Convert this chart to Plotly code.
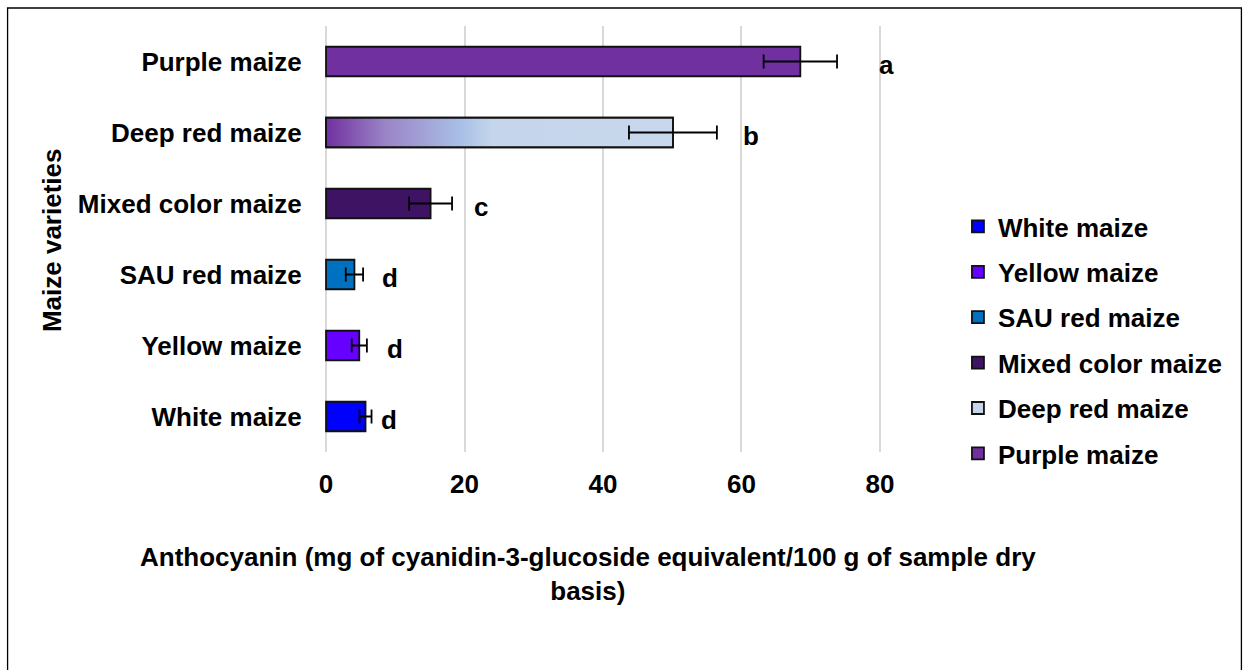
import plotly.graph_objects as go

# Anthocyanin content by maize variety (bottom to top on the chart)
varieties = ["White maize", "Yellow maize", "SAU red maize",
             "Mixed color maize", "Deep red maize", "Purple maize"]
anthocyanin = [5.7, 4.8, 4.1, 15.1, 50.1, 68.5]
std_err = [0.87, 1.1, 1.25, 3.1, 6.35, 5.3]
letters = ["d", "d", "d", "c", "b", "a"]
x_ticks = [0, 20, 40, 60, 80]

# styling
colors = ["#0000FF", "#6600FF", "#0070C0", "#3F1363", "#C5D5EA", "#7030A0"]
letter_shift = [17, 28, 27, 29, 34, 49]
BAR_W = 0.415
FONT = dict(family="Liberation Sans, Arial, sans-serif", size=26, color="black", weight=700)

# x range padded a hair so the 0 and 80 gridlines are drawn
X_PAD = 0.15
X0, X1 = 326, 880                     # pixel positions of 0 and 80
SCALE = (X1 - X0) / 80.0

# plot-area geometry in pixels
W, H = 1249, 670
L = X0 - X_PAD * SCALE
R = W - (X1 + X_PAD * SCALE)
T, B = 26, 218
PW, PH = W - L - R, H - T - B


def px_x(x):
    return (x - L) / PW


def px_y(y):
    return (H - B - y) / PH


pos = list(range(len(varieties)))
fig = go.Figure()

for i, name in enumerate(varieties):
    fig.add_trace(go.Bar(
        x=[anthocyanin[i]], y=[pos[i]], orientation="h", width=BAR_W,
        name=name, legendgroup=name,
        marker=dict(color=colors[i], line=dict(color="#111111", width=1.8)),
        hoverinfo="x+name",
    ))

# gradient face of the deep red bar
k = varieties.index("Deep red maize")
v, y0, y1 = anthocyanin[k], pos[k] - BAR_W / 2, pos[k] + BAR_W / 2
fig.add_trace(go.Scatter(
    x=[0, v, v, 0, 0], y=[y0, y0, y1, y1, y0], mode="lines", fill="toself",
    fillgradient=dict(type="horizontal", start=0, stop=v,
                      colorscale=[[0.0, "#7030A0"], [0.17, "#9A84C6"],
                                  [0.39, "#A9C0E6"], [0.48, "#C5D5EB"],
                                  [1.0, "#C7D7EC"]]),
    line=dict(color="#111111", width=1.8), showlegend=False, hoverinfo="skip",
))

# error bars on top of all bars
fig.add_trace(go.Scatter(
    x=anthocyanin, y=pos, mode="markers", marker=dict(size=1, opacity=0),
    error_x=dict(type="data", array=std_err, color="black", thickness=1.8, width=7),
    showlegend=False, hoverinfo="skip",
))

annotations = []
for i, let in enumerate(letters):
    annotations.append(dict(
        x=anthocyanin[i] + std_err[i], y=pos[i], xref="x", yref="y",
        text=let, showarrow=False, xanchor="center", yanchor="middle",
        xshift=letter_shift[i], yshift=-3, font=FONT,
    ))

annotations.append(dict(
    x=px_x(588), y=px_y(574), xref="paper", yref="paper",
    text="Anthocyanin (mg of cyanidin-3-glucoside equivalent/100 g of sample dry<br>basis)",
    showarrow=False, xanchor="center", yanchor="middle", align="center", font=FONT,
))
annotations.append(dict(
    x=px_x(52), y=px_y(240), xref="paper", yref="paper",
    text="Maize varieties", textangle=-90,
    showarrow=False, xanchor="center", yanchor="middle", font=FONT,
))

fig.update_layout(
    width=W, height=H, autosize=False,
    margin=dict(l=L, r=R, t=T, b=B, pad=0),
    paper_bgcolor="white", plot_bgcolor="white",
    barmode="overlay",
    font=FONT,
    showlegend=True,
    legend=dict(
        x=px_x(958), y=px_y(203), xanchor="left", yanchor="top",
        traceorder="grouped", tracegroupgap=8.6, font=FONT,
        bgcolor="rgba(0,0,0,0)", borderwidth=0,
    ),
    xaxis=dict(
        range=[-X_PAD, 80 + X_PAD], tickvals=x_ticks, ticktext=[str(t) for t in x_ticks],
        showgrid=True, gridcolor="#D9D9D9", gridwidth=1.5,
        zeroline=False, showline=False,
        ticks="outside", ticklen=9, tickcolor="rgba(0,0,0,0)",
        tickfont=FONT, fixedrange=True,
    ),
    yaxis=dict(
        range=[-0.5, 5.5], tickvals=pos, ticktext=varieties,
        showgrid=False, zeroline=False, showline=False,
        ticks="outside", ticklen=17, tickcolor="rgba(0,0,0,0)",
        tickfont=FONT, fixedrange=True,
    ),
    annotations=annotations,
    shapes=[dict(
        type="rect", xref="paper", yref="paper",
        x0=px_x(7.5), x1=px_x(1241.5), y0=px_y(690), y1=px_y(8),
        line=dict(color="black", width=1.3), fillcolor="rgba(0,0,0,0)", layer="below",
    )],
)

fig.write_html("out.html")
